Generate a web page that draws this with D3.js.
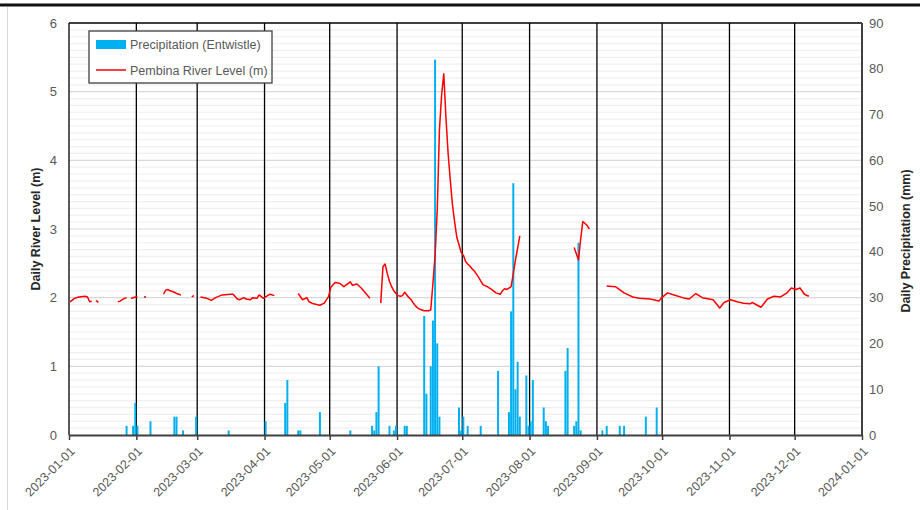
<!DOCTYPE html>
<html>
<head>
<meta charset="utf-8">
<script src="https://cdn.jsdelivr.net/npm/d3@7"></script>
<style>
    body { margin: 0; background: #fff; }
    text { font-family: "Liberation Sans", Arial, sans-serif; }
</style>
</head>
<body>
<div id="chart"></div>
<script>
// daily precipitation at Entwistle (mm), only days with rain
const precipDates = [
    "2023-01-27", "2023-01-30", "2023-01-31", "2023-02-01", "2023-02-07", "2023-02-18", "2023-02-19",
    "2023-02-22", "2023-02-28", "2023-03-15", "2023-04-01", "2023-04-10", "2023-04-11", "2023-04-16",
    "2023-04-17", "2023-04-26", "2023-05-10", "2023-05-20", "2023-05-21", "2023-05-22", "2023-05-23",
    "2023-05-28", "2023-05-30", "2023-05-31", "2023-06-04", "2023-06-05", "2023-06-13", "2023-06-14",
    "2023-06-16", "2023-06-17", "2023-06-18", "2023-06-19", "2023-06-20", "2023-06-29", "2023-06-30",
    "2023-07-01", "2023-07-03", "2023-07-09", "2023-07-17", "2023-07-22", "2023-07-23", "2023-07-24",
    "2023-07-25", "2023-07-26", "2023-07-27", "2023-07-30", "2023-07-31", "2023-08-01", "2023-08-02",
    "2023-08-07", "2023-08-08", "2023-08-09", "2023-08-17", "2023-08-18", "2023-08-21", "2023-08-22",
    "2023-08-23", "2023-08-24", "2023-09-03", "2023-09-05", "2023-09-11", "2023-09-13", "2023-09-23",
    "2023-09-28"
];
const precipMm = [
    2, 2, 7, 2, 3, 4, 4,
    1, 4, 1, 3, 7, 12, 1,
    1, 5, 1, 2, 1, 5, 15,
    2, 1, 2, 2, 2, 26, 9,
    15, 25, 82, 20, 4, 6, 1,
    4, 2, 2, 14, 5, 27, 55,
    10, 16, 4, 13, 2, 3, 12,
    6, 3, 2, 14, 19, 2, 3,
    42, 1, 1, 2, 2, 2, 4,
    6
];

// Pembina River level (m); null marks a break in the record
const levelDates = [
    "2023-01-01", "2023-01-03", "2023-01-05", "2023-01-08", "2023-01-09", "2023-01-10", "2023-01-11",
    "2023-01-12", "2023-01-13", "2023-01-14", "2023-01-15",
    "2023-01-23", "2023-01-24", "2023-01-25", "2023-01-26", "2023-01-27", "2023-01-28",
    "2023-01-29", "2023-01-30", "2023-01-31", "2023-02-01", "2023-02-02",
    "2023-02-04", "2023-02-05", "2023-02-06",
    "2023-02-13", "2023-02-14", "2023-02-15", "2023-02-16", "2023-02-17", "2023-02-18", "2023-02-19",
    "2023-02-20", "2023-02-21", "2023-02-22",
    "2023-02-26", "2023-02-27", "2023-02-28",
    "2023-03-02", "2023-03-05", "2023-03-07", "2023-03-09", "2023-03-12", "2023-03-16", "2023-03-17",
    "2023-03-19", "2023-03-20", "2023-03-22", "2023-03-23", "2023-03-25", "2023-03-26", "2023-03-28",
    "2023-03-29", "2023-03-31", "2023-04-01", "2023-04-03", "2023-04-05", "2023-04-06",
    "2023-04-16", "2023-04-18", "2023-04-20", "2023-04-21", "2023-04-23", "2023-04-26", "2023-04-28",
    "2023-04-30", "2023-05-01", "2023-05-03", "2023-05-05", "2023-05-07", "2023-05-10", "2023-05-11",
    "2023-05-13", "2023-05-15", "2023-05-19", "2023-05-20",
    "2023-05-24", "2023-05-25", "2023-05-26", "2023-05-27", "2023-05-28", "2023-05-29", "2023-05-30",
    "2023-05-31", "2023-06-01", "2023-06-02", "2023-06-03", "2023-06-04", "2023-06-05", "2023-06-06",
    "2023-06-07", "2023-06-08", "2023-06-09", "2023-06-10", "2023-06-11", "2023-06-12", "2023-06-13",
    "2023-06-14", "2023-06-15", "2023-06-16", "2023-06-17", "2023-06-18", "2023-06-19", "2023-06-20",
    "2023-06-21", "2023-06-22", "2023-06-23", "2023-06-24", "2023-06-25", "2023-06-26", "2023-06-27",
    "2023-06-28", "2023-06-29", "2023-06-30", "2023-07-01", "2023-07-02", "2023-07-03", "2023-07-04",
    "2023-07-05", "2023-07-06", "2023-07-08", "2023-07-10", "2023-07-12", "2023-07-14", "2023-07-16",
    "2023-07-18", "2023-07-19", "2023-07-20", "2023-07-21", "2023-07-22", "2023-07-23", "2023-07-24",
    "2023-07-25", "2023-07-26", "2023-07-27", "2023-07-28",
    "2023-08-21", "2023-08-22", "2023-08-23", "2023-08-24", "2023-08-25", "2023-08-26", "2023-08-27",
    "2023-08-28", "2023-08-29",
    "2023-09-05", "2023-09-09", "2023-09-13", "2023-09-17", "2023-09-20", "2023-09-25", "2023-09-29",
    "2023-09-30", "2023-10-03", "2023-10-06", "2023-10-11", "2023-10-13", "2023-10-16", "2023-10-19",
    "2023-10-24", "2023-10-27", "2023-10-29", "2023-11-01", "2023-11-04", "2023-11-07", "2023-11-10",
    "2023-11-11", "2023-11-15", "2023-11-18", "2023-11-21", "2023-11-24", "2023-11-27", "2023-11-29",
    "2023-12-01", "2023-12-03", "2023-12-05", "2023-12-07"
];
const levelM = [
    1.94, 1.99, 2.01, 2.02, 2.01, 1.94, 1.95,
    null, 1.96, 1.93, null,
    1.94, 1.95, 1.97, 1.99, 2.00, null,
    1.99, 2.00, 2.01, 2.01, null,
    2.01, 2.01, null,
    2.05, 2.11, 2.12, 2.10, 2.09, 2.08, 2.06,
    2.05, 2.04, null,
    2.01, 2.03, null,
    2.01, 1.99, 1.96, 2.00, 2.04, 2.05, 2.05,
    1.98, 1.97, 2.00, 1.98, 1.97, 2.00, 1.99,
    2.04, 1.99, 2.01, 2.05, 2.03, null,
    2.06, 1.97, 2.00, 1.94, 1.91, 1.89, 1.92,
    2.02, 2.15, 2.22, 2.21, 2.16, 2.23, 2.18,
    2.20, 2.14, 1.99, null,
    1.92, 2.45, 2.49, 2.35, 2.24, 2.16, 2.10,
    2.06, 2.03, 2.02, 2.03, 2.08, 2.04, 2.00,
    1.97, 1.92, 1.88, 1.85, 1.83, 1.82, 1.81,
    1.81, 1.81, 1.82, 2.20, 2.62, 3.28, 4.44,
    4.95, 5.26, 4.62, 4.10, 3.71, 3.35, 3.10,
    2.88, 2.77, 2.66, 2.62, 2.53, 2.49, 2.46,
    2.42, 2.39, 2.30, 2.19, 2.16, 2.12, 2.07,
    2.05, 2.10, 2.13, 2.12, 2.14, 2.16, 2.35,
    2.55, 2.72, 2.90, null,
    2.73, 2.64, 2.55, 2.85, 3.11, 3.08, 3.05,
    3.00, null,
    2.17, 2.16, 2.07, 2.01, 1.99, 1.98, 1.95,
    1.99, 2.07, 2.04, 1.99, 1.98, 2.06, 2.00,
    1.97, 1.85, 1.93, 1.97, 1.94, 1.92, 1.91,
    1.93, 1.86, 1.98, 2.02, 2.01, 2.07, 2.14,
    2.12, 2.14, 2.05, 2.02
];

const levelTicks = [0, 1, 2, 3, 4, 5, 6];
const precipTicks = [0, 10, 20, 30, 40, 50, 60, 70, 80, 90];

const parse = d3.timeParse("%Y-%m-%d");
const rain = precipDates.map((d, i) => ({ date: parse(d), value: precipMm[i] }));
const level = levelDates.map((d, i) => ({ date: parse(d), value: levelM[i] }));

const width = 920, height = 510;
const margin = { top: 23, right: 58, bottom: 75, left: 69 };
const plotLeft = margin.left, plotRight = width - margin.right;
const plotTop = margin.top, plotBottom = height - margin.bottom;

const svg = d3.select("#chart").append("svg")
    .attr("width", width)
    .attr("height", height);

svg.append("rect").attr("width", width).attr("height", height).attr("fill", "#fff");

// chart frame remnants
svg.append("line")
    .attr("x1", 0).attr("x2", width).attr("y1", 5).attr("y2", 5)
    .attr("stroke", "#111").attr("stroke-width", 3);
svg.append("line")
    .attr("x1", 7.5).attr("x2", 7.5).attr("y1", 7).attr("y2", height)
    .attr("stroke", "#d9d9d9");

const x = d3.scaleTime()
    .domain([new Date(2023, 0, 1), new Date(2024, 0, 1)])
    .range([plotLeft, plotRight]);
const yLevel = d3.scaleLinear()
    .domain([0, 6])
    .range([plotBottom, plotTop]);
const yRain = d3.scaleLinear()
    .domain([0, 90])
    .range([plotBottom, plotTop]);

const dayW = x(new Date(2023, 0, 2)) - x(new Date(2023, 0, 1));

// horizontal gridlines: minor every 0.1 m, major every 1 m
const minor = d3.range(1, 60).filter(d => d % 10 !== 0).map(d => d / 10);
svg.append("g").selectAll("line")
    .data(minor)
    .enter().append("line")
    .attr("x1", plotLeft).attr("x2", plotRight)
    .attr("y1", d => yLevel(d)).attr("y2", d => yLevel(d))
    .attr("stroke", "#efefef").attr("stroke-width", 1.2);
svg.append("g").selectAll("line")
    .data(levelTicks.slice(1, -1))
    .enter().append("line")
    .attr("x1", plotLeft).attr("x2", plotRight)
    .attr("y1", d => yLevel(d)).attr("y2", d => yLevel(d))
    .attr("stroke", "#d9d9d9").attr("stroke-width", 1.2);

// vertical month lines
const months = x.ticks(d3.timeMonth.every(1));
svg.append("g").selectAll("line")
    .data(months.slice(0, -1))
    .enter().append("line")
    .attr("x1", d => x(d)).attr("x2", d => x(d))
    .attr("y1", plotTop).attr("y2", plotBottom)
    .attr("stroke", "#000").attr("stroke-width", 1.3);
svg.append("line")
    .attr("x1", plotLeft).attr("x2", plotRight).attr("y1", plotTop).attr("y2", plotTop)
    .attr("stroke", "#000").attr("stroke-width", 1.3);
svg.append("line")
    .attr("x1", plotRight).attr("x2", plotRight).attr("y1", plotTop).attr("y2", plotBottom)
    .attr("stroke", "#404040").attr("stroke-width", 2);

// precipitation bars (secondary axis)
svg.append("g").selectAll("rect")
    .data(rain)
    .enter().append("rect")
    .attr("x", d => x(d.date) + 0.1)
    .attr("y", d => yRain(d.value))
    .attr("width", dayW - 0.2)
    .attr("height", d => yRain(0) - yRain(d.value))
    .attr("fill", "#00b0f0");

// river level line
const line = d3.line()
    .defined(d => d.value !== null)
    .x(d => x(d.date) + dayW / 2)
    .y(d => yLevel(d.value));
svg.append("path")
    .datum(level)
    .attr("d", line)
    .attr("fill", "none")
    .attr("stroke", "#ff0000")
    .attr("stroke-width", 1.5)
    .attr("stroke-linejoin", "round");

// bottom date axis
const xAxis = svg.append("g")
    .attr("transform", `translate(0,${plotBottom})`)
    .call(d3.axisBottom(x)
        .ticks(d3.timeMonth.every(1))
        .tickSize(5)
        .tickSizeOuter(0)
        .tickFormat(d3.timeFormat("%Y-%m-%d")));
xAxis.select(".domain").attr("stroke", "#404040").attr("stroke-width", 2);
xAxis.selectAll(".tick line").attr("stroke", "#404040").attr("stroke-width", 1.5);
xAxis.selectAll(".tick text")
    .attr("x", 0).attr("y", 0).attr("dy", "0.35em")
    .attr("transform", "translate(3,14) rotate(-45)")
    .attr("text-anchor", "end")
    .attr("fill", "#595959")
    .style("font-size", "12.5px");

// left and right value labels
svg.append("g").selectAll("text")
    .data(levelTicks)
    .enter().append("text")
    .attr("x", 57).attr("y", d => yLevel(d)).attr("dy", "0.35em")
    .attr("text-anchor", "end")
    .attr("fill", "#595959")
    .style("font-size", "13px")
    .text(d => d);
svg.append("g").selectAll("text")
    .data(precipTicks)
    .enter().append("text")
    .attr("x", 869).attr("y", d => yRain(d)).attr("dy", "0.35em")
    .attr("fill", "#595959")
    .style("font-size", "13px")
    .text(d => d);

// axis titles
svg.append("text")
    .attr("transform", `translate(40,${(plotTop + plotBottom) / 2}) rotate(-90)`)
    .attr("text-anchor", "middle")
    .attr("fill", "#262626")
    .style("font-size", "12.5px").style("font-weight", "bold")
    .text("Daily River Level (m)");
svg.append("text")
    .attr("transform", `translate(910,${(plotTop + plotBottom) / 2 + 12}) rotate(-90)`)
    .attr("text-anchor", "middle")
    .attr("fill", "#262626")
    .style("font-size", "12.5px").style("font-weight", "bold")
    .text("Daily Precipitation (mm)");

// legend
const legend = svg.append("g").attr("transform", "translate(89,31)");
legend.append("rect")
    .attr("width", 183).attr("height", 52)
    .attr("fill", "#fff").attr("stroke", "#404040").attr("stroke-width", 1.3);
legend.append("rect")
    .attr("x", 7).attr("y", 9).attr("width", 30).attr("height", 9)
    .attr("fill", "#00b0f0");
legend.append("line")
    .attr("x1", 7).attr("x2", 37).attr("y1", 39).attr("y2", 39)
    .attr("stroke", "#ff0000").attr("stroke-width", 1.5);
legend.selectAll("text.lab")
    .data(["Precipitation (Entwistle)", "Pembina River Level (m)"])
    .enter().append("text")
    .attr("class", "lab")
    .attr("x", 41).attr("y", (d, i) => 13.5 + i * 26).attr("dy", "0.35em")
    .attr("fill", "#595959")
    .style("font-size", "12.5px")
    .text(d => d);
</script>
</body>
</html>
